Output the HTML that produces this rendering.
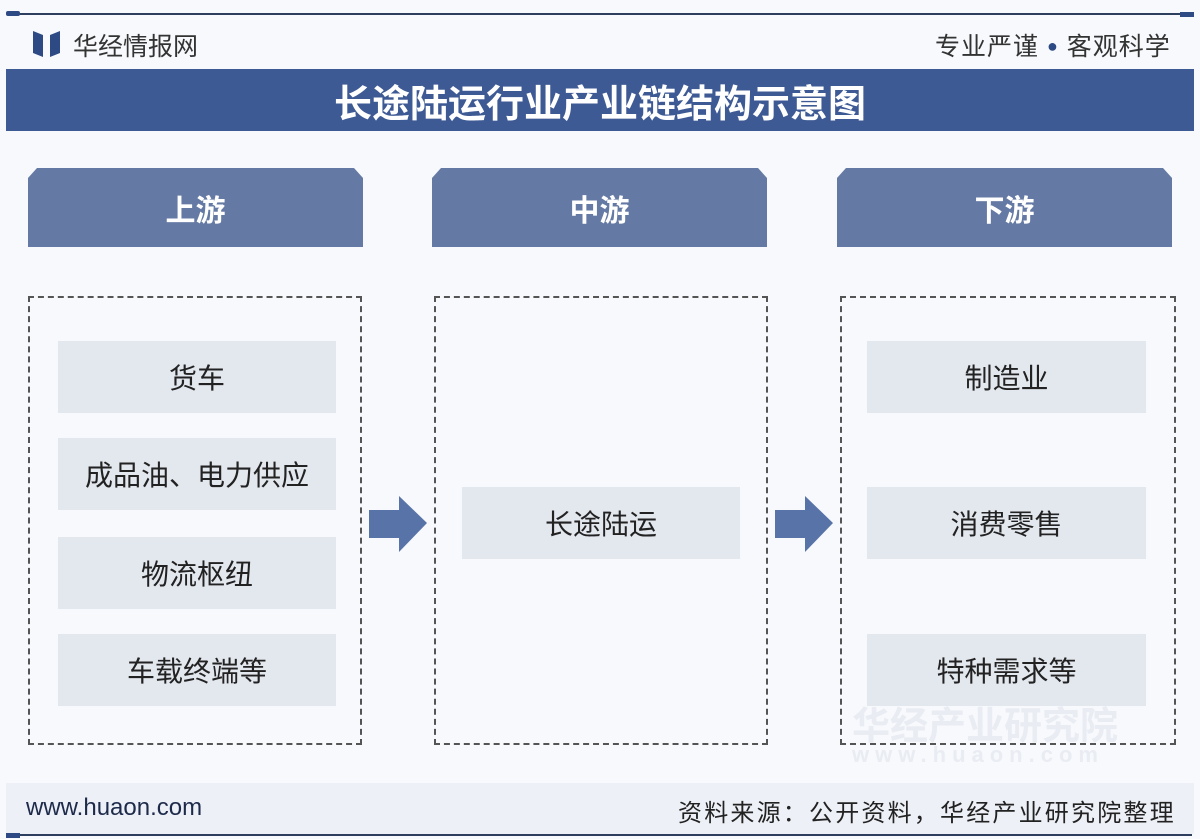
<!DOCTYPE html>
<html><head><meta charset="utf-8"><style>
*{margin:0;padding:0;box-sizing:border-box}
body{width:1200px;height:839px;background:#f7f9fc;position:relative;overflow:hidden;font-family:"Liberation Sans","Noto Sans CJK SC",sans-serif}
.a{position:absolute}
.tab{position:absolute;top:168px;height:79px;width:335px;background:#6479a4;clip-path:polygon(9px 0,326px 0,335px 10px,335px 79px,0 79px,0 10px);color:#fff;font-size:30px;font-weight:bold;display:flex;align-items:center;justify-content:center}
.box{position:absolute;top:296px;height:449px;border:2px dashed #555}
.it{position:absolute;background:#e3e7ee;color:#222;font-size:28px;display:flex;align-items:center;justify-content:center;height:72px}
</style></head><body>
<div class="a" style="left:8px;top:13px;width:1184px;height:2px;background:#2d3e5e"></div>
<div class="a" style="left:6px;top:11px;width:14px;height:5px;background:#2d4a85;border-radius:2px"></div>
<div class="a" style="left:1180px;top:12px;width:14px;height:5px;background:#2d4a85"></div>
<svg class="a" style="left:33px;top:31px" width="27" height="26"><polygon points="0,0 10,4 10,26 0,22" fill="#2d4a85"/><polygon points="27,0 17,4 17,26 27,22" fill="#2d4a85"/></svg>
<div class="a" style="left:73px;top:27px;font-size:25px;color:#333">华经情报网</div>
<div class="a" style="left:935px;top:27px;font-size:25px;color:#333;letter-spacing:1px">专业严谨 <span style="color:#2d4a85;font-size:18px;vertical-align:3px">●</span> 客观科学</div>
<div class="a" style="left:6px;top:69px;width:1188px;height:62px;background:#3e5a94;color:#fff;font-size:38px;font-weight:bold;display:flex;align-items:center;justify-content:center">长途陆运行业产业链结构示意图</div>
<div class="tab" style="left:28px">上游</div>
<div class="tab" style="left:432px">中游</div>
<div class="tab" style="left:837px">下游</div>
<div class="box" style="left:28px;width:334px"></div>
<div class="box" style="left:434px;width:334px"></div>
<div class="box" style="left:840px;width:336px"></div>
<div class="it" style="left:58px;top:341px;width:278px">货车</div>
<div class="it" style="left:58px;top:438px;width:278px">成品油、电力供应</div>
<div class="it" style="left:58px;top:537px;width:278px">物流枢纽</div>
<div class="it" style="left:58px;top:634px;width:278px">车载终端等</div>
<div class="it" style="left:462px;top:487px;width:278px">长途陆运</div>
<div class="it" style="left:867px;top:341px;width:279px">制造业</div>
<div class="it" style="left:867px;top:487px;width:279px">消费零售</div>
<div class="it" style="left:867px;top:634px;width:279px">特种需求等</div>
<svg class="a" style="left:368px;top:495px" width="60" height="58"><polygon points="1,15 31,15 31,1 59,28 31,57 31,43 1,43" fill="#5873a8"/></svg>
<svg class="a" style="left:774px;top:495px" width="60" height="58"><polygon points="1,15 31,15 31,1 59,28 31,57 31,43 1,43" fill="#5873a8"/></svg>
<div class="a" style="left:852px;top:695px;font-size:38px;font-weight:bold;color:#e9ecf2">华经产业研究院</div>
<div class="a" style="left:852px;top:742px;font-size:22px;font-weight:bold;color:#e9ecf2;letter-spacing:6px">www.huaon.com</div>
<div class="a" style="left:6px;top:783px;width:1188px;height:51px;background:#edf0f6"></div>
<div class="a" style="left:26px;top:794px;font-size:24px;color:#1d2a4a">www.huaon.com</div>
<div class="a" style="left:678px;top:793px;font-size:24px;color:#222;letter-spacing:2.2px">资料来源：公开资料，华经产业研究院整理</div>
<div class="a" style="left:8px;top:834px;width:1184px;height:2px;background:#2d3e5e"></div>
<div class="a" style="left:6px;top:833px;width:14px;height:5px;background:#2d4a85"></div>
</body></html>
